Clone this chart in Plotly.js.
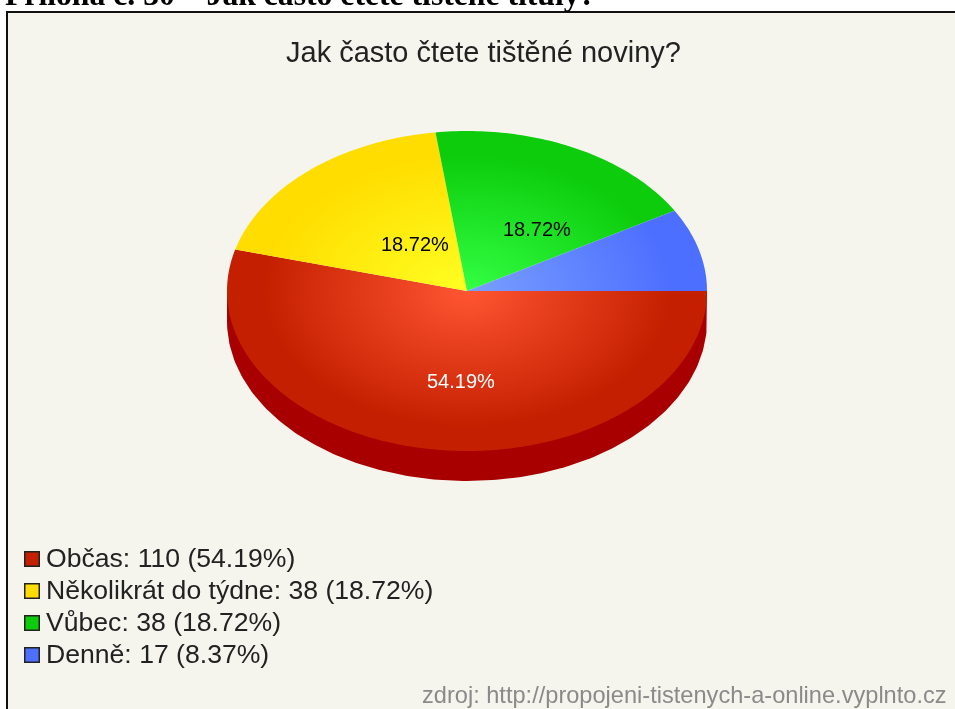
<!DOCTYPE html>
<html><head><meta charset="utf-8">
<script src="https://cdn.plot.ly/plotly-3.0.1.min.js"></script>
<style>html,body{margin:0;padding:0;background:#fff;overflow:hidden}#chart{filter:blur(0.45px)}</style>
</head><body><div id="chart" style="width:955px;height:709px"></div>
<script>
var categories = ['Občas', 'Několikrát do týdne', 'Vůbec', 'Denně'];
var counts = [110, 38, 38, 17];
var percents = ['54.19%', '18.72%', '18.72%', '8.37%'];
var sliceLabels = ['54.19%', '18.72%', '18.72%', ''];
var chartTitle = 'Jak často čtete tištěné noviny?';
var pageHeading = 'Příloha č. 30 – Jak často čtete tištěné tituly?';
var sourceNote = 'zdroj: http://propojeni-tistenych-a-online.vyplnto.cz';

var swatch = ['#c42000', '#ffdd00', '#0ccc0c', '#4d6fff'];
var inner = ['#ff5533', '#ffff22', '#33ff44', '#7a9fff'];
var CX = 467, CY = 291, RX = 240, RY = 160, DEPTH = 30;
var labelXY = [[461, 381], [415, 244], [537, 229]];
var labelColor = ['#ffffff', '#000000', '#000000'];

var total = counts.reduce(function (a, b) { return a + b; }, 0);
var traces = [];

// side wall of the tilted pie
var wx = [], wy = [], a;
wx.push(CX + RX); wy.push(CY);
for (a = 0; a <= 180; a += 1) {
  wx.push(CX + RX * Math.cos(a * Math.PI / 180));
  wy.push(CY + DEPTH + RY * Math.sin(a * Math.PI / 180));
}
wx.push(CX - RX); wy.push(CY);
traces.push({ x: wx, y: wy, mode: 'lines', fill: 'toself', fillcolor: '#a80000', line: { width: 0 }, hoverinfo: 'skip', showlegend: false });

// slices, clockwise from east
var start = 0;
counts.forEach(function (v, i) {
  var sweep = v / total * 360, x = [CX], y = [CY], steps = Math.ceil(sweep), k;
  for (k = 0; k <= steps; k++) {
    var t = (start + sweep * k / steps) * Math.PI / 180;
    x.push(CX + RX * Math.cos(t));
    y.push(CY + RY * Math.sin(t));
  }
  x.push(CX); y.push(CY);
  // zero-area anchors keep each slice's gradient box equal to the full ellipse
  [[-1, -1], [1, 1]].forEach(function (c) {
    var px = CX + c[0] * RX, py = CY + c[1] * RY;
    x.push(null, px, px, px); y.push(null, py, py, py);
  });
  traces.push({
    x: x, y: y, mode: 'lines', fill: 'toself', name: categories[i],
    line: { width: 0, simplify: false }, connectgaps: false,
    fillcolor: swatch[i],
    fillgradient: { type: 'radial', colorscale: [[0, inner[i]], [0.85, swatch[i]], [1, swatch[i]]] },
    hoverinfo: 'name', showlegend: false
  });
  start += sweep;
});

var LEG_X = 44, LEG_Y = [558, 590, 622, 654];
var SWATCH_Y = [559, 591, 623, 655];
var annotations = [];
function txt(x, y, text, size, color, anchor) {
  annotations.push({ x: x, y: y, xref: 'x', yref: 'y', text: text, showarrow: false,
    xanchor: anchor, yanchor: 'middle', font: { family: 'Liberation Sans, Arial, sans-serif', size: size, color: color } });
}
txt(483, 52, chartTitle, 29, '#222222', 'center');
sliceLabels.forEach(function (s, i) { if (s) txt(labelXY[i][0], labelXY[i][1], s, 20, labelColor[i], 'center'); });
categories.forEach(function (c, i) {
  txt(LEG_X, LEG_Y[i], c + ': ' + counts[i] + ' (' + percents[i] + ')', 26.6, '#222222', 'left');
});
txt(949, 695, sourceNote, 23.6, '#8a8a8a', 'right');
annotations.push({ x: 3, y: 0, yshift: 6, xref: 'x', yref: 'y', text: '<b>' + pageHeading + '</b>', showarrow: false, xanchor: 'left', yanchor: 'middle',
  font: { family: 'Liberation Serif, Times New Roman, serif', size: 31.7, color: '#000' } });

traces.push({
  x: SWATCH_Y.map(function () { return 32; }), y: SWATCH_Y, mode: 'markers', hoverinfo: 'skip', showlegend: false,
  marker: { symbol: 'square', size: 14.5, color: swatch, line: { color: '#222', width: 1.5 } }
});

var layout = {
  width: 955, height: 709, margin: { l: 0, r: 0, t: 0, b: 0 }, showlegend: false,
  paper_bgcolor: '#ffffff', plot_bgcolor: '#ffffff',
  xaxis: { range: [0, 955], visible: false, fixedrange: true },
  yaxis: { range: [709, 0], visible: false, fixedrange: true },
  annotations: annotations,
  shapes: [{ type: 'rect', xref: 'x', yref: 'y', x0: 7, y0: 12, x1: 975, y1: 730, fillcolor: '#f5f5ee', line: { color: '#111', width: 2 }, layer: 'below' }]
};
Plotly.newPlot('chart', traces, layout, { displayModeBar: false, staticPlot: true });
</script></body></html>
